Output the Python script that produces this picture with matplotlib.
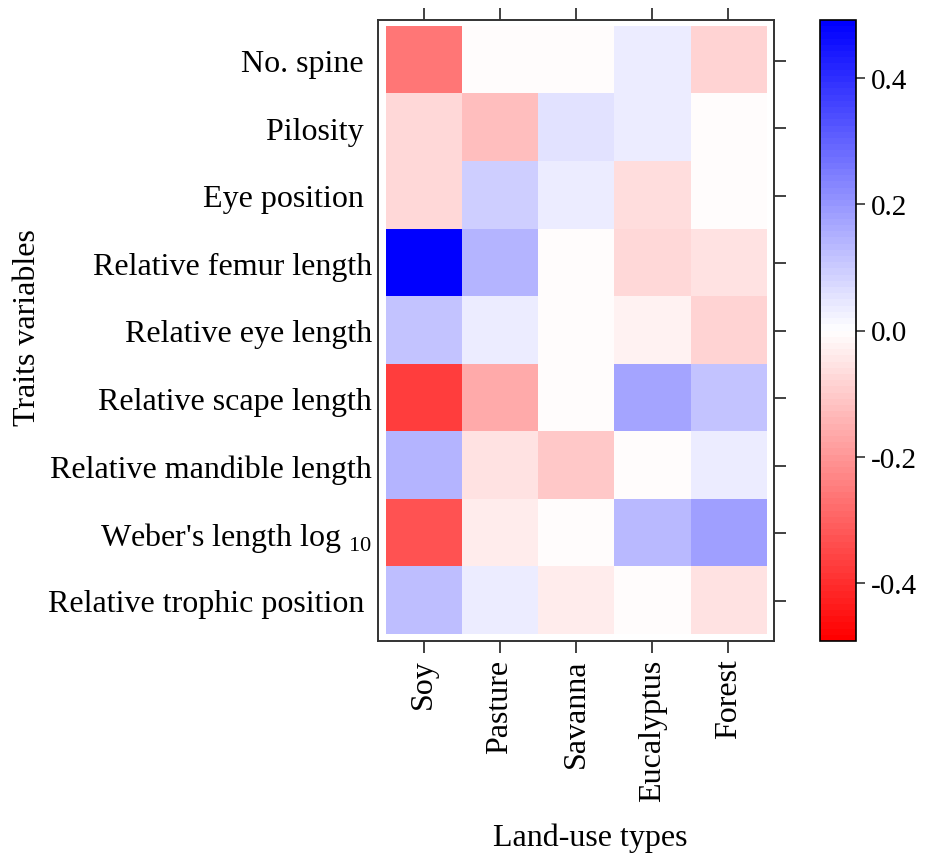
import numpy as np
import matplotlib
matplotlib.use("Agg")
import matplotlib.pyplot as plt
from matplotlib.colors import LinearSegmentedColormap

plt.rcParams['font.family'] = ['Liberation Serif', 'DejaVu Serif']
plt.rcParams['mathtext.fontset'] = 'custom'
plt.rcParams['mathtext.rm'] = 'Liberation Serif'

# land-use types (columns) and trait variables (rows, top to bottom)
land_use = ['Soy', 'Pasture', 'Savanna', 'Eucalyptus', 'Forest']
traits = ['No. spine ', 'Pilosity ', 'Eye position ', 'Relative femur length',
          'Relative eye length', 'Relative scape length',
          'Relative mandible length', "Weber's length log $_{10}$",
          'Relative trophic position ']

no_spine = [-0.26, -0.005, -0.005, 0.03, -0.08]
pilosity = [-0.075, -0.12, 0.05, 0.03, -0.005]
eye_position = [-0.075, 0.09, 0.03, -0.06, -0.005]
femur_length = [0.49, 0.14, -0.005, -0.07, -0.05]
eye_length = [0.11, 0.03, -0.005, -0.02, -0.08]
scape_length = [-0.37, -0.16, -0.005, 0.17, 0.11]
mandible_length = [0.14, -0.05, -0.10, -0.005, 0.03]
weber_length = [-0.33, -0.035, -0.005, 0.135, 0.18]
trophic_position = [0.12, 0.03, -0.03, -0.005, -0.05]

vals = np.array([no_spine, pilosity, eye_position, femur_length, eye_length,
                 scape_length, mandible_length, weber_length, trophic_position])

lim = 0.492
cbar_ticks = [-0.4, -0.2, 0.0, 0.2, 0.4]

cmap = LinearSegmentedColormap.from_list('rwb', ['red', 'white', 'blue'], N=100)

W, H = 928, 862
fig = plt.figure(figsize=(W / 100, H / 100), dpi=100)

def box(x0, y0, x1, y1):
    return [x0 / W, 1 - y1 / H, (x1 - x0) / W, (y1 - y0) / H]

ax = fig.add_axes(box(378, 21, 774, 642))
im = ax.imshow(vals, cmap=cmap, vmin=-lim, vmax=lim, aspect='auto',
               extent=(0.5, 5.5, 9.5, 0.5), interpolation='nearest')
ax.set_xlim(0.4, 5.6)
ax.set_ylim(9.6, 0.4)

ax.set_xticks(range(1, 6))
ax.set_xticklabels(land_use, rotation=90, fontsize=23)
ax.set_yticks(range(1, 10))
ax.set_yticklabels(traits, fontsize=23)

ax.tick_params(axis='both', direction='out', length=8.6, width=1.3, color='#333333')
ax.tick_params(axis='x', top=True, bottom=True, labeltop=False, pad=4)
ax.tick_params(axis='y', left=False, right=True, labelright=False, pad=4.3 - 8.6)
for s in ax.spines.values():
    s.set_color('#333333')
    s.set_linewidth(1.4)

# colour key
cax = fig.add_axes(box(820, 21, 856, 642))
cb = fig.colorbar(im, cax=cax, ticks=cbar_ticks)
cb.ax.set_yticklabels(['%.1f' % t for t in cbar_ticks], fontsize=21)
cb.ax.tick_params(direction='out', length=6.5, width=1.2, color='#333333', pad=4)
cb.outline.set_linewidth(1.2)

fig.text(590 / W, 1 - 838 / H, 'Land-use types', ha='center', va='center', fontsize=23)
fig.text(28 / W, 1 - 328 / H, 'Traits variables', ha='center', va='center',
         rotation=90, fontsize=23)

fig.savefig('out.png', dpi=100, facecolor='white')
